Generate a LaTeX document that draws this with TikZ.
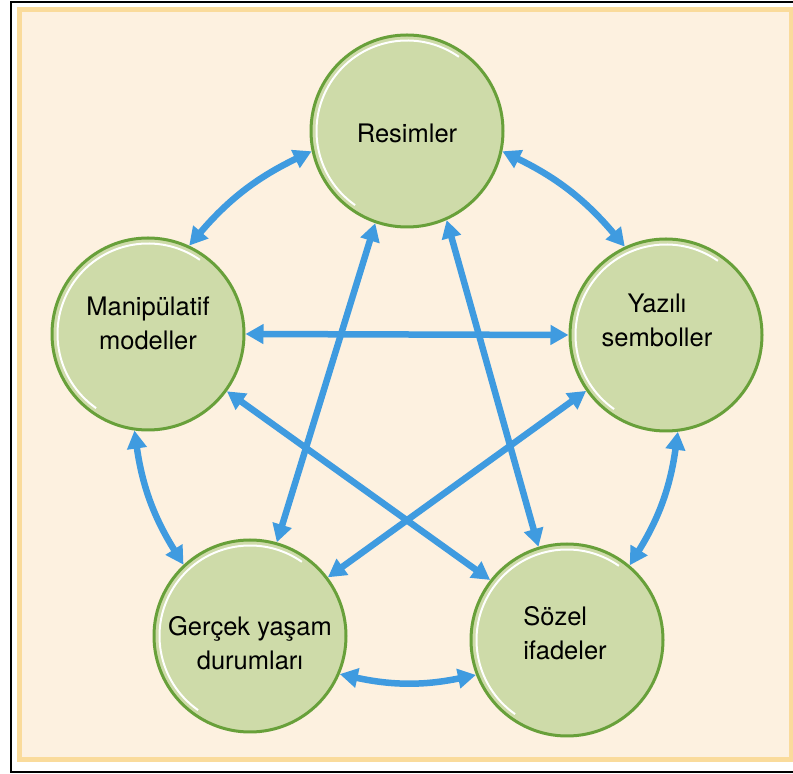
\documentclass[tikz,border=0pt]{standalone}
\usepackage{fontspec}
\setmainfont{TeX Gyre Heros}
\usetikzlibrary{arrows.meta}
\definecolor{peach}{HTML}{FDF1E0}
\definecolor{bandyellow}{HTML}{FADB9B}
\definecolor{sage}{HTML}{CEDBA9}
\definecolor{leafgreen}{HTML}{68A03A}
\definecolor{skyblue}{HTML}{3F9BE0}
\begin{document}
\begin{tikzpicture}[x=1pt, y=1pt,
  bubble/.style={circle, draw=leafgreen, line width=3pt, fill=sage, minimum size=192pt,
    inner sep=0pt,
    path picture={\draw[white, line width=2pt] (path picture bounding box.center) ++(55:90.5)
      arc[start angle=55, end angle=235, radius=90.5];}},
  caption/.style={align=center, font=\fontsize{25.5}{34}\selectfont},
  link/.style={draw=skyblue, line width=6.5pt,
    {Triangle[length=18pt,width=19pt]}-{Triangle[length=18pt,width=19pt]}}]
\useasboundingbox (0,0) rectangle (793,774);
% frame
\draw[line width=1.5pt] (11,2) rectangle (805,772);
\fill[peach] (19,14) rectangle (791,765);
\draw[bandyellow, line width=5pt] (19.3,14.3) rectangle (791,764.7);
% circles
\node[bubble] (res) at (407,643) {};
\node[bubble] (man) at (148,440) {};
\node[bubble] (yaz) at (666,439) {};
\node[bubble] (ger) at (250,138) {};
\node[bubble] (soz) at (567,134) {};
% texts
\node[caption] (restext) at ([yshift=-2]res) {Resimler};
\node[caption] (mantext) at ([yshift=11]man) {Manipülatif\\modeller};
\node[caption] (yaztext) at ([xshift=-9,yshift=15]yaz) {Yazılı\\semboller};
\node[caption] (gertext) at ([yshift=-7]ger) {Gerçek yaşam\\durumları};
\node[caption, align=left] (soztext) at ([xshift=-2,yshift=7]soz) {Sözel\\ifadeler};
% outer ring
\draw[link] (res.192) to[bend right=12] (man.65);
\draw[link] (man.262) to[bend right=12] (ger.133);
\draw[link] (ger.-23) to[bend right=12] (soz.201);
\draw[link] (soz.50) to[bend right=12] (yaz.-83);
\draw[link] (yaz.115) to[bend right=12] (res.-12);
% inner star
\draw[link] (man.0) -- (yaz.180);
\draw[link] (res.251) -- (ger.74);
\draw[link] (res.294) -- (soz.107);
\draw[link] (man.-36) -- (soz.142);
\draw[link] (yaz.215) -- (ger.37);
\end{tikzpicture}
\end{document}
